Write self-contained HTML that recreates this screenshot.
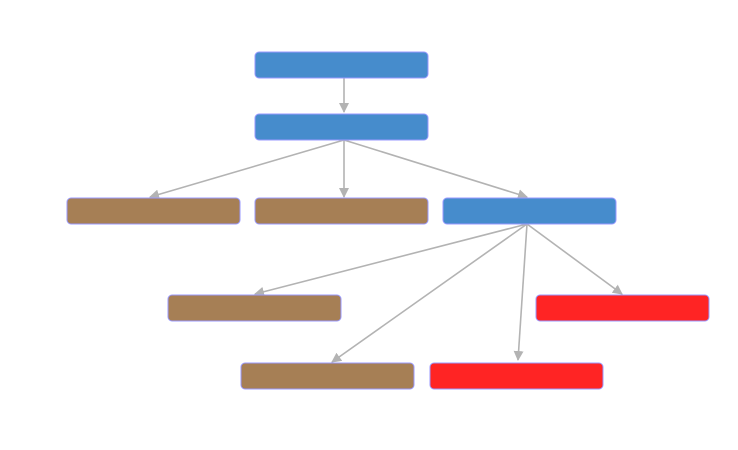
<!DOCTYPE html>
<html><head><meta charset="utf-8"><style>html,body{margin:0;padding:0;background:#fff;}svg{display:block}</style></head><body>
<svg width="738" height="450" viewBox="0 0 738 450" xmlns="http://www.w3.org/2000/svg">
<defs><marker id="a" markerWidth="10" markerHeight="10" refX="9" refY="5" orient="auto" markerUnits="userSpaceOnUse"><path d="M0,0 L10,5 L0,10 z" fill="#b3b3b3"/></marker></defs>
<g stroke="#b3b3b3" stroke-width="1.6" fill="none" marker-end="url(#a)">
<line x1="344" y1="78" x2="344" y2="112"/>
<line x1="344" y1="140" x2="150" y2="197"/>
<line x1="344" y1="140" x2="344" y2="197"/>
<line x1="344" y1="140" x2="527" y2="197"/>
<line x1="527" y1="224" x2="255" y2="294"/>
<line x1="527" y1="224" x2="622" y2="294"/>
<line x1="527" y1="224" x2="332" y2="362"/>
<line x1="527" y1="224" x2="518" y2="360"/>
</g>
<g stroke="#9999ff" stroke-width="1">
<rect x="255" y="52" width="173" height="26" rx="4" fill="#468ccc"/>
<rect x="255" y="114" width="173" height="26" rx="4" fill="#468ccc"/>
<rect x="67" y="198" width="173" height="26" rx="4" fill="#a67f55"/>
<rect x="255" y="198" width="173" height="26" rx="4" fill="#a67f55"/>
<rect x="443" y="198" width="173" height="26" rx="4" fill="#468ccc"/>
<rect x="168" y="295" width="173" height="26" rx="4" fill="#a67f55"/>
<rect x="536" y="295" width="173" height="26" rx="4" fill="#ff2424"/>
<rect x="241" y="363" width="173" height="26" rx="4" fill="#a67f55"/>
<rect x="430" y="363" width="173" height="26" rx="4" fill="#ff2424"/>
</g>
</svg>
</body></html>
